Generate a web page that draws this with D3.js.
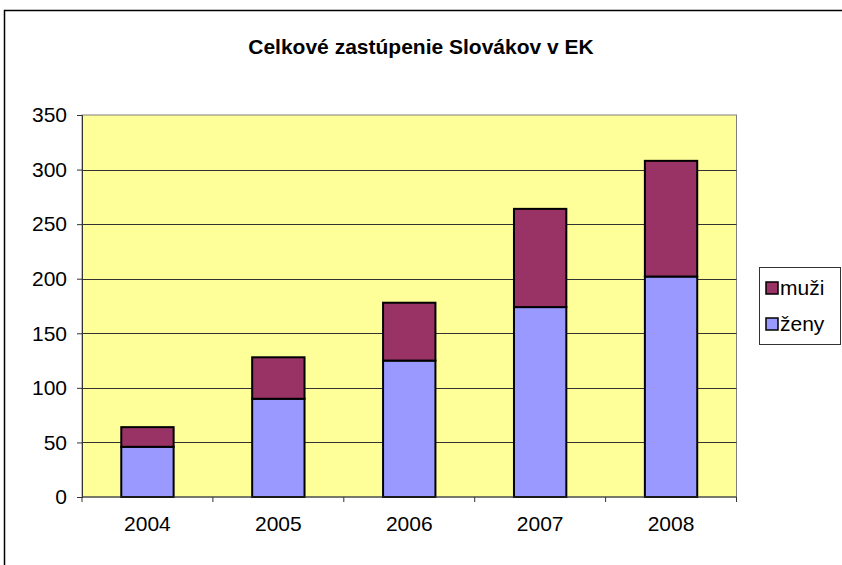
<!DOCTYPE html>
<html>
<head>
<meta charset="utf-8">
<script src="https://cdn.jsdelivr.net/npm/d3@7"></script>
<style>
  body { margin: 0; background: #fff; }
  svg { display: block; font-family: "Liberation Sans", Arial, sans-serif; }
</style>
</head>
<body>
<div id="chart"></div>
<script>
// Celkové zastúpenie Slovákov v EK - stacked columns
const years = ["2004", "2005", "2006", "2007", "2008"];
const zeny = [46, 90, 125, 174, 202];
const muzi = [18, 38, 53, 90, 106];
const seriesNames = ["ženy", "muži"];
const yTicks = [0, 50, 100, 150, 200, 250, 300, 350];

const W = 842, H = 565;
const plot = { left: 82, top: 115, right: 736.5, bottom: 497 };
const fontSize = 21;

const svg = d3.select("#chart").append("svg")
    .attr("width", W)
    .attr("height", H);

// outer chart frame (runs off the picture on the right/bottom)
svg.append("rect")
    .attr("x", 4.5).attr("y", 10.5)
    .attr("width", 900).attr("height", 700)
    .attr("fill", "#fff")
    .attr("stroke", "#000")
    .attr("stroke-width", 1.5);

svg.append("text")
    .attr("x", 421).attr("y", 54)
    .attr("text-anchor", "middle")
    .attr("font-size", fontSize)
    .attr("font-weight", "bold")
    .text("Celkové zastúpenie Slovákov v EK");

const x = d3.scaleBand()
    .domain(years)
    .range([plot.left, plot.right])
    .paddingInner(0.6)
    .paddingOuter(0.3);

const y = d3.scaleLinear()
    .domain([0, 350])
    .range([plot.bottom, plot.top]);

svg.append("rect")
    .attr("x", plot.left).attr("y", plot.top)
    .attr("width", plot.right - plot.left)
    .attr("height", plot.bottom - plot.top)
    .attr("fill", "#FFFF99")
    .attr("stroke", "#808080")
    .attr("stroke-width", 1);

// gridlines
svg.append("g")
    .selectAll("line")
    .data(yTicks.filter(d => d > 0 && d < 350))
    .join("line")
    .attr("x1", plot.left).attr("x2", plot.right)
    .attr("y1", d => Math.round(y(d)) + 0.5)
    .attr("y2", d => Math.round(y(d)) + 0.5)
    .attr("stroke", "#333")
    .attr("stroke-width", 1);

const stackData = years.map((yr, i) => ({ year: yr, "ženy": zeny[i], "muži": muzi[i] }));
const stacked = d3.stack().keys(seriesNames)(stackData);
const colors = { "ženy": "#9999FF", "muži": "#993366" };

svg.append("g")
    .selectAll("g")
    .data(stacked)
    .join("g")
    .attr("fill", d => colors[d.key])
    .selectAll("rect")
    .data(d => d)
    .join("rect")
    .attr("x", d => x(d.data.year))
    .attr("y", d => y(d[1]))
    .attr("width", x.bandwidth())
    .attr("height", d => y(d[0]) - y(d[1]))
    .attr("stroke", "#000")
    .attr("stroke-width", 2);

// y axis
const yAxis = svg.append("g")
    .attr("transform", `translate(${plot.left},0)`)
    .call(d3.axisLeft(y).tickValues(yTicks).tickSize(5).tickPadding(10));
yAxis.select(".domain").attr("stroke", "#333");
yAxis.selectAll(".tick line").attr("stroke", "#333");
yAxis.selectAll("text")
    .attr("font-size", fontSize)
    .attr("font-family", "Liberation Sans, Arial, sans-serif")
    .attr("fill", "#000");

// x axis: ticks between categories
const boundaries = d3.range(years.length + 1).map(i => plot.left + i * (plot.right - plot.left) / years.length);
const xg = svg.append("g");
xg.append("line")
    .attr("x1", plot.left).attr("x2", plot.right)
    .attr("y1", plot.bottom).attr("y2", plot.bottom)
    .attr("stroke", "#333");
xg.selectAll("line.tk")
    .data(boundaries)
    .join("line")
    .attr("class", "tk")
    .attr("x1", d => d).attr("x2", d => d)
    .attr("y1", plot.bottom).attr("y2", plot.bottom + 5)
    .attr("stroke", "#333");
xg.selectAll("text")
    .data(years)
    .join("text")
    .attr("x", d => x(d) + x.bandwidth() / 2)
    .attr("y", 531)
    .attr("text-anchor", "middle")
    .attr("font-size", fontSize)
    .text(d => d);

// legend
const legend = svg.append("g");
legend.append("rect")
    .attr("x", 759.5).attr("y", 267.5)
    .attr("width", 81).attr("height", 77)
    .attr("fill", "#fff")
    .attr("stroke", "#333");
const legendItems = ["muži", "ženy"];
legendItems.forEach((name, i) => {
    const cy = 288 + i * 36;
    legend.append("rect")
        .attr("x", 766).attr("y", cy - 6)
        .attr("width", 12).attr("height", 12)
        .attr("fill", colors[name])
        .attr("stroke", "#000")
        .attr("stroke-width", 1.5);
    legend.append("text")
        .attr("x", 780).attr("y", cy + 7)
        .attr("font-size", fontSize)
        .text(name);
});
</script>
</body>
</html>
